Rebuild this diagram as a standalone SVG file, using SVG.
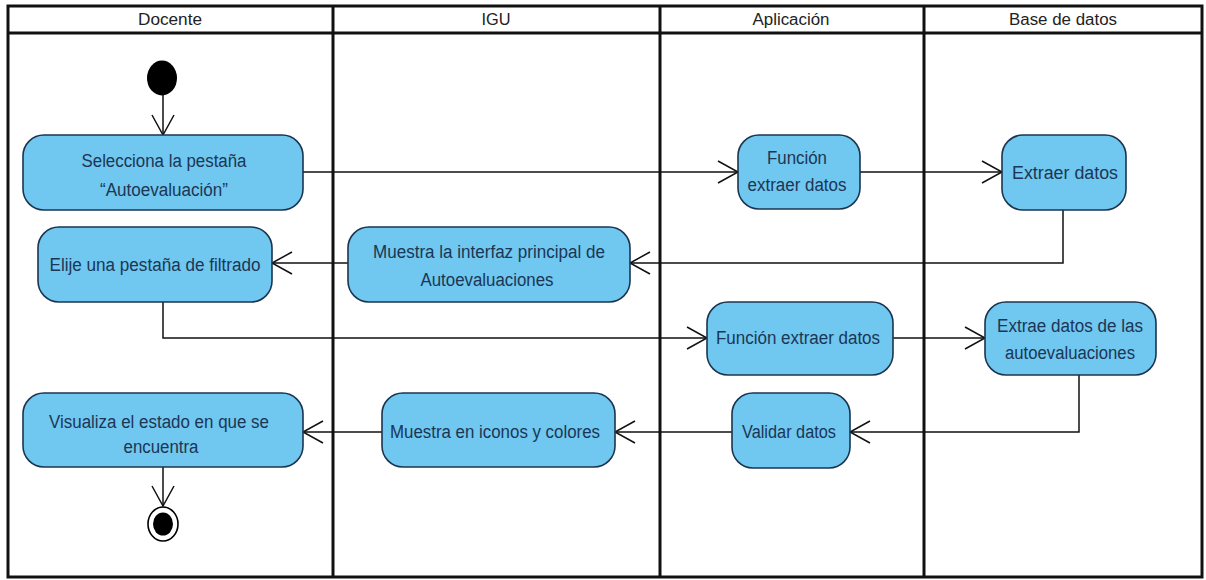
<svg xmlns="http://www.w3.org/2000/svg" width="1206" height="580" viewBox="0 0 1206 580">
<defs>
<style>
.lane{fill:none;stroke:#111;stroke-width:3}
.hdr{font-family:"Liberation Sans",Arial,sans-serif;font-size:16px;fill:#222;text-anchor:middle}
.act{fill:#70c7ef;stroke:#1b3550;stroke-width:1.6}
.lbl{font-family:"Liberation Sans",Arial,sans-serif;font-size:18px;fill:#1c3655;text-anchor:middle}
.con{fill:none;stroke:#111;stroke-width:1.5}
</style>
<marker id="arr" markerUnits="userSpaceOnUse" markerWidth="24" markerHeight="26" viewBox="-22 -13 24 26" refX="0" refY="0" orient="auto">
<path d="M-20,-11 L0,0 L-20,11" fill="none" stroke="#111" stroke-width="1.5"/>
</marker>
</defs>
<rect width="1206" height="580" fill="#fff"/>
<g id="swimlanes">
<rect class="lane" x="8" y="6" width="1194" height="571"/>
<line class="lane" x1="8" y1="33" x2="1202" y2="33"/>
<line class="lane" x1="333" y1="6" x2="333" y2="577"/>
<line class="lane" x1="660" y1="6" x2="660" y2="577"/>
<line class="lane" x1="924" y1="6" x2="924" y2="577"/>
<text class="hdr" x="170" y="25" textLength="64" lengthAdjust="spacingAndGlyphs">Docente</text>
<text class="hdr" x="496" y="25" textLength="29" lengthAdjust="spacingAndGlyphs">IGU</text>
<text class="hdr" x="791" y="25" textLength="77" lengthAdjust="spacingAndGlyphs">Aplicación</text>
<text class="hdr" x="1063" y="25" textLength="108" lengthAdjust="spacingAndGlyphs">Base de datos</text>
</g>
<g id="connectors">
<path class="con" d="M163,95 L163,135" marker-end="url(#arr)"/>
<path class="con" d="M303,172 L738,172" marker-end="url(#arr)"/>
<path class="con" d="M860,172 L1002,172" marker-end="url(#arr)"/>
<path class="con" d="M1063,210 L1063,263 L630,263" marker-end="url(#arr)"/>
<path class="con" d="M348,263 L272,263" marker-end="url(#arr)"/>
<path class="con" d="M163,302 L163,338 L707,338" marker-end="url(#arr)"/>
<path class="con" d="M893,338 L985,338" marker-end="url(#arr)"/>
<path class="con" d="M1079,375 L1079,432 L850,432" marker-end="url(#arr)"/>
<path class="con" d="M732,432 L615,432" marker-end="url(#arr)"/>
<path class="con" d="M382,432 L303,432" marker-end="url(#arr)"/>
<path class="con" d="M163,467 L163,506" marker-end="url(#arr)"/>
</g>
<g id="initial">
<ellipse cx="162" cy="78" rx="15" ry="17.5" fill="#000"/>
</g>
<g id="n1">
<rect class="act" x="23" y="135" width="280" height="75" rx="21"/>
<text class="lbl" x="164" y="167" textLength="165" lengthAdjust="spacingAndGlyphs">Selecciona la pestaña</text>
<text class="lbl" x="164" y="196" textLength="128" lengthAdjust="spacingAndGlyphs">“Autoevaluación”</text>
</g>
<g id="n2">
<rect class="act" x="738" y="135" width="122" height="74" rx="21"/>
<text class="lbl" x="797" y="164" textLength="60" lengthAdjust="spacingAndGlyphs">Función</text>
<text class="lbl" x="797" y="191" textLength="99" lengthAdjust="spacingAndGlyphs">extraer datos</text>
</g>
<g id="n3">
<rect class="act" x="1002" y="135" width="124" height="75" rx="21"/>
<text class="lbl" x="1065" y="179" textLength="106" lengthAdjust="spacingAndGlyphs">Extraer datos</text>
</g>
<g id="n4">
<rect class="act" x="38" y="227" width="234" height="75" rx="21"/>
<text class="lbl" x="155" y="271" textLength="211" lengthAdjust="spacingAndGlyphs">Elije una pestaña de filtrado</text>
</g>
<g id="n5">
<rect class="act" x="348" y="227" width="282" height="75" rx="21"/>
<text class="lbl" x="489" y="258" textLength="232" lengthAdjust="spacingAndGlyphs">Muestra la interfaz principal de</text>
<text class="lbl" x="487" y="286" textLength="133" lengthAdjust="spacingAndGlyphs">Autoevaluaciones</text>
</g>
<g id="n6">
<rect class="act" x="707" y="302" width="186" height="73" rx="21"/>
<text class="lbl" x="798" y="344" textLength="164" lengthAdjust="spacingAndGlyphs">Función extraer datos</text>
</g>
<g id="n7">
<rect class="act" x="985" y="302" width="171" height="73" rx="21"/>
<text class="lbl" x="1070" y="332" textLength="146" lengthAdjust="spacingAndGlyphs">Extrae datos de las</text>
<text class="lbl" x="1070" y="359" textLength="130" lengthAdjust="spacingAndGlyphs">autoevaluaciones</text>
</g>
<g id="n8">
<rect class="act" x="23" y="393" width="280" height="74" rx="21"/>
<text class="lbl" x="159" y="428" textLength="220" lengthAdjust="spacingAndGlyphs">Visualiza el estado en que se</text>
<text class="lbl" x="161" y="453" textLength="75" lengthAdjust="spacingAndGlyphs">encuentra</text>
</g>
<g id="n9">
<rect class="act" x="382" y="393" width="233" height="74" rx="21"/>
<text class="lbl" x="495" y="438" textLength="210" lengthAdjust="spacingAndGlyphs">Muestra en iconos y colores</text>
</g>
<g id="n10">
<rect class="act" x="732" y="393" width="118" height="75" rx="21"/>
<text class="lbl" x="789" y="438" textLength="94" lengthAdjust="spacingAndGlyphs">Validar datos</text>
</g>
<g id="final">
<ellipse cx="163" cy="524" rx="15" ry="17" fill="#fff" stroke="#000" stroke-width="1.6"/>
<ellipse cx="163" cy="524" rx="10" ry="11.5" fill="#000"/>
</g>
</svg>
